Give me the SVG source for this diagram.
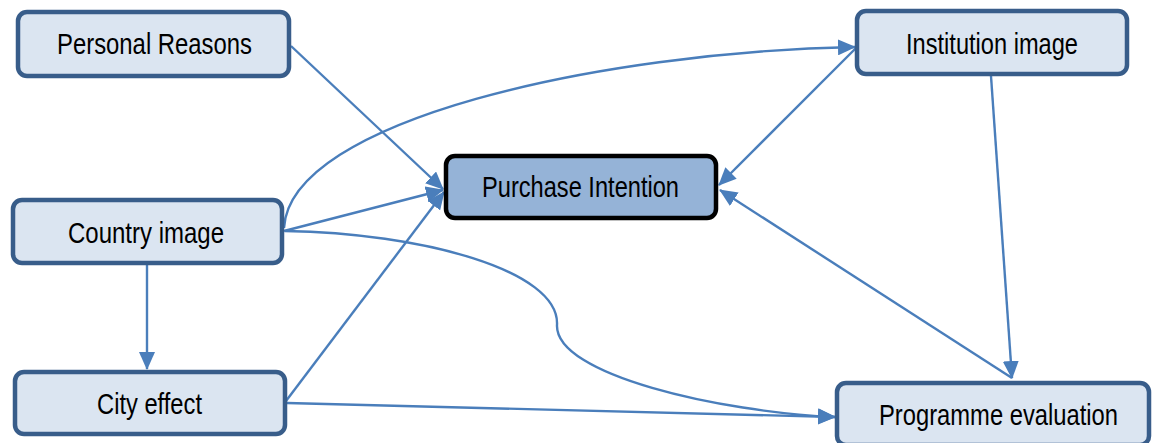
<svg xmlns="http://www.w3.org/2000/svg" width="1156" height="443" viewBox="0 0 1156 443">
<style>
.box{fill:#dbe5f1;stroke:#385d8a;stroke-width:4.5}
.main{fill:#95b3d7;stroke:#000;stroke-width:4.5}
.lbl{font-family:"Liberation Sans Narrow","Liberation Sans",Arial,sans-serif;font-size:29px;fill:#000}
.c{fill:none;stroke:#4a7ebb;stroke-width:2.4}
</style>
<defs>
<marker id="ah" markerUnits="userSpaceOnUse" markerWidth="18" markerHeight="16" viewBox="0 0 18 16" refX="17" refY="8" orient="auto">
<path d="M0,0 L18,8 L0,16 Z" fill="#4a7ebb"/>
</marker>
</defs>
<rect width="1156" height="443" fill="#fff"/>
<g id="connectors">
<line class="c" x1="291" y1="46" x2="443" y2="189" marker-end="url(#ah)"/>
<line class="c" x1="284" y1="231" x2="443" y2="190" marker-end="url(#ah)"/>
<line class="c" x1="286" y1="401" x2="444" y2="192" marker-end="url(#ah)"/>
<path class="c" d="M284,228 C290,120 600,52 855,47" marker-end="url(#ah)"/>
<line class="c" x1="856" y1="48" x2="719" y2="185" marker-end="url(#ah)"/>
<line class="c" x1="1012" y1="378" x2="720" y2="190" marker-end="url(#ah)"/>
<line class="c" x1="991" y1="76" x2="1012" y2="378" marker-end="url(#ah)"/>
<path class="c" d="M285,231 C420,233 560,270 557,325 C555,375 720,412 835,417" marker-end="url(#ah)"/>
<line class="c" x1="287" y1="403" x2="835" y2="417" marker-end="url(#ah)"/>
<line class="c" x1="147" y1="265" x2="147" y2="369" marker-end="url(#ah)"/>
</g>
<g id="personal-reasons">
<rect class="box" x="18" y="12" width="271" height="64" rx="9"/>
<text class="lbl" x="57" y="54" textLength="195" lengthAdjust="spacingAndGlyphs">Personal Reasons</text>
</g>
<g id="institution-image">
<rect class="box" x="857" y="11" width="270" height="63" rx="9"/>
<text class="lbl" x="906" y="54" textLength="172" lengthAdjust="spacingAndGlyphs">Institution image</text>
</g>
<g id="purchase-intention">
<rect class="main" x="446" y="156" width="270" height="62" rx="9"/>
<text class="lbl" x="482" y="197" textLength="197" lengthAdjust="spacingAndGlyphs">Purchase Intention</text>
</g>
<g id="country-image">
<rect class="box" x="13" y="200" width="269" height="63" rx="9"/>
<text class="lbl" x="68" y="243" textLength="156" lengthAdjust="spacingAndGlyphs">Country image</text>
</g>
<g id="city-effect">
<rect class="box" x="15" y="372" width="270" height="62" rx="9"/>
<text class="lbl" x="97" y="414" textLength="105" lengthAdjust="spacingAndGlyphs">City effect</text>
</g>
<g id="programme-evaluation">
<rect class="box" x="837" y="383" width="312" height="62" rx="9"/>
<text class="lbl" x="879" y="425" textLength="239" lengthAdjust="spacingAndGlyphs">Programme evaluation</text>
</g>
</svg>
